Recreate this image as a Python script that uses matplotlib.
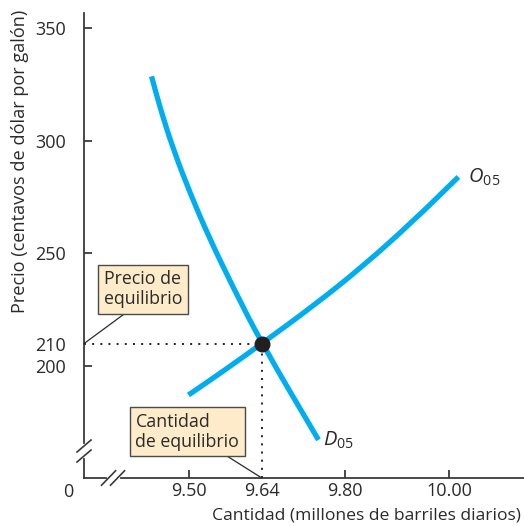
import matplotlib
matplotlib.use("Agg")
import matplotlib.pyplot as plt
from matplotlib.path import Path
from matplotlib.patches import PathPatch

plt.rcParams['font.family'] = ['Open Sans', 'DejaVu Sans']
plt.rcParams['mathtext.fontset'] = 'custom'
plt.rcParams['mathtext.rm'] = 'Open Sans'
plt.rcParams['mathtext.it'] = 'Open Sans:italic'

# Data
demand_q = [9.428, 9.4455, 9.470, 9.502, 9.5376, 9.5838, 9.640, 9.749]
demand_p = [328.5, 313.7, 296.0, 276.8, 257.6, 235.4, 210.0, 167.3]
supply_q = [9.499, 9.566, 9.640, 9.739, 9.835, 9.931, 10.018]
supply_p = [187.2, 197.8, 210.0, 226.7, 244.4, 264.3, 283.9]
eq_q = 9.64
eq_p = 210
x_ticks = [9.50, 9.64, 9.80, 10.00]
x_ticklabels = ["9.50", "9.64", "9.80", "10.00"]
y_ticks = [200, 210, 250, 300, 350]
y_ticklabels = ["200", "210", "250", "300", "350"]

W, H = 524, 526
fig = plt.figure(figsize=(W / 100, H / 100), dpi=100)
ax = fig.add_axes([84 / W, 48 / H, 440 / W, 465 / H])
ax.set_xlim(9.2981, 10.1442)
ax.set_ylim(150.4, 356.6)

blue = '#00AEEF'
axc = '#3a3a3a'
txt = '#2a2a2a'


def smooth_curve(xs, ys, **kw):
    """Draw a smooth quadratic-Bezier path guided by the read points."""
    pts = list(zip(xs, ys))
    verts = [pts[0]]
    codes = [Path.MOVETO]
    mids = [((pts[i][0] + pts[i + 1][0]) / 2, (pts[i][1] + pts[i + 1][1]) / 2)
            for i in range(len(pts) - 1)]
    verts.append(mids[0])
    codes.append(Path.LINETO)
    for i in range(1, len(pts) - 1):
        verts += [pts[i], mids[i]]
        codes += [Path.CURVE3, Path.CURVE3]
    verts.append(pts[-1])
    codes.append(Path.LINETO)
    patch = PathPatch(Path(verts, codes), fill=False, transform=ax.transData, **kw)
    ax.add_patch(patch)


smooth_curve(demand_q, demand_p, edgecolor=blue, lw=3.8, capstyle='butt', zorder=3)
smooth_curve(supply_q, supply_p, edgecolor=blue, lw=3.8, capstyle='butt', zorder=3)
ax.plot([ax.get_xlim()[0], eq_q], [eq_p, eq_p], color='#231f20', lw=1.4,
        linestyle=(0, (1, 3.2)), zorder=2)
ax.plot([eq_q, eq_q], [ax.get_ylim()[0], eq_p], color='#231f20', lw=1.4,
        linestyle=(0, (1, 3.2)), zorder=2)
ax.plot([eq_q], [eq_p], 'o', color='#231f20', markersize=10.5, zorder=5)

for s in ['top', 'right']:
    ax.spines[s].set_visible(False)
for s in ['left', 'bottom']:
    ax.spines[s].set_color(axc)
    ax.spines[s].set_linewidth(1.3)

ax.set_xticks(x_ticks)
ax.set_xticklabels(x_ticklabels)
ax.set_yticks(y_ticks)
ax.set_yticklabels(y_ticklabels)
ax.tick_params(direction='in', length=6, width=1.3, color=axc, labelsize=13,
               labelcolor=txt)
ax.tick_params(axis='x', pad=3)
ax.tick_params(axis='y', pad=13)
for i, t in enumerate(ax.xaxis.get_major_ticks()):
    if x_ticks[i] == eq_q:
        t.tick1line.set_visible(False)
for i, t in enumerate(ax.yaxis.get_major_ticks()):
    if y_ticks[i] == eq_p:
        t.tick1line.set_visible(False)

# zero label
fig.text(68 / W, 1 - 492 / H, "0", fontsize=13, color=txt, ha='center', va='center')

# axis titles
fig.text(521 / W, 1 - 516 / H, "Cantidad (millones de barriles diarios)", fontsize=12.6,
         color=txt, ha='right', va='center')
fig.text(20 / W, 1 - 161 / H, "Precio (centavos de dólar por galón)", fontsize=13.1,
         color=txt, ha='center', va='center', rotation=90)

# axis breaks
def brk(cx, cy, vertical_axis):
    dx = 7 / 440
    dy = 6 / 465
    if vertical_axis:
        off = 5 / 465
        ax.plot([0, 0], [cy - off, cy + off], color='white', lw=3, transform=ax.transAxes,
                clip_on=False, zorder=6)
        for o in (-off, off):
            ax.plot([cx - dx, cx + dx], [cy + o - dy, cy + o + dy], color=axc, lw=1.2,
                    transform=ax.transAxes, clip_on=False, zorder=7)
    else:
        off = 4.5 / 440
        ax.plot([cx - off, cx + off], [0, 0], color='white', lw=3, transform=ax.transAxes,
                clip_on=False, zorder=6)
        for o in (-off, off):
            ax.plot([cx + o - dx, cx + o + dx], [-dy * 1.2, dy * 1.2], color=axc, lw=1.2,
                    transform=ax.transAxes, clip_on=False, zorder=7)

brk(0, 0.058, True)
brk(0.066, 0, False)

box = dict(boxstyle='square,pad=0.3', fc='#FDEBC9', ec='#4a4a4a', lw=1.0)
ax.annotate("Precio de\nequilibrio", xy=(ax.get_xlim()[0], eq_p), xycoords='data',
            xytext=(0.134, 0.406), textcoords='axes fraction', ha='center', va='center',
            multialignment='left', fontsize=12.8, color=txt, bbox=box, linespacing=1.15,
            arrowprops=dict(arrowstyle='-', color=txt, lw=0.9, shrinkA=0, shrinkB=0,
                            relpos=(0.36, 0)), zorder=8)
ax.annotate("Cantidad\nde equilibrio", xy=(eq_q, ax.get_ylim()[0]), xycoords='data',
            xytext=(0.235, 0.0996), textcoords='axes fraction', ha='center', va='center',
            multialignment='left', fontsize=12.8, color=txt, bbox=box, linespacing=1.15,
            arrowprops=dict(arrowstyle='-', color=txt, lw=0.9, shrinkA=0, shrinkB=0,
                            relpos=(0.8, 0)), zorder=8)

ax.text(supply_q[-1], supply_p[-1], r"  $\mathit{O}_{\mathrm{05}}$", fontsize=14.5,
        color=txt, ha='left', va='center')
ax.text(demand_q[-1], demand_p[-1], r" $\mathit{D}_{\mathrm{05}}$", fontsize=14.5,
        color=txt, ha='left', va='center')

fig.savefig("out.png", dpi=100)
